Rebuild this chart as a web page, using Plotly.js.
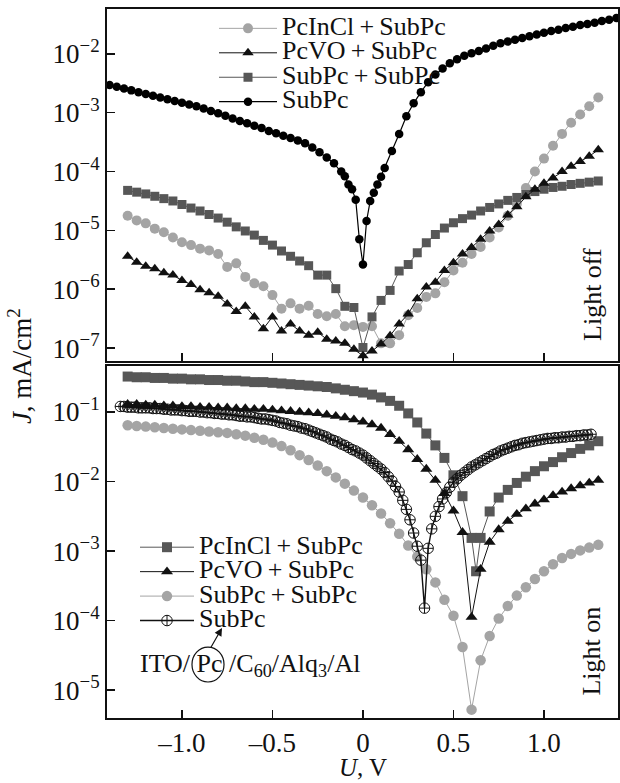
<!DOCTYPE html>
<html>
<head>
<meta charset="utf-8">
<script src="https://cdn.plot.ly/plotly-3.0.1.min.js"></script>
<style>html,body{margin:0;padding:0;background:#fff}#chart{width:620px;height:783px}</style>
</head>
<body>
<div id="chart"></div>
<script>
// ---------- Data (values are log10 of J in mA/cm^2) ----------
// Light off panel
const U_OFF = [-1.30,-1.25,-1.20,-1.15,-1.10,-1.05,-1.00,-0.95,-0.90,-0.85,-0.80,-0.75,-0.70,-0.65,-0.60,-0.55,-0.50,-0.45,-0.40,-0.35,-0.30,-0.25,-0.20,-0.15,-0.10,-0.05,0.00,0.05,0.10,0.15,0.20,0.25,0.30,0.35,0.40,0.45,0.50,0.55,0.60,0.65,0.70,0.75,0.80,0.85,0.90,0.95,1.00,1.05,1.10,1.15,1.20,1.25,1.30];
const LOGJ_OFF_PCINCL = [-4.75,-4.83,-4.88,-4.97,-5.03,-5.12,-5.20,-5.25,-5.31,-5.34,-5.40,-5.62,-5.56,-5.79,-5.90,-5.95,-6.10,-6.33,-6.24,-6.33,-6.28,-6.42,-6.46,-6.42,-6.63,-6.61,-6.64,-6.63,-6.92,-6.92,-6.78,-6.44,-6.32,-6.13,-6.07,-5.88,-5.68,-5.55,-5.40,-5.28,-5.12,-4.95,-4.75,-4.55,-4.28,-4.00,-3.78,-3.56,-3.36,-3.17,-3.03,-2.89,-2.74];
const LOGJ_OFF_PCVO = [-5.44,-5.54,-5.61,-5.65,-5.72,-5.76,-5.85,-5.92,-6.01,-6.06,-6.12,-6.25,-6.38,-6.29,-6.47,-6.67,-6.47,-6.71,-6.59,-6.71,-6.78,-6.73,-6.85,-6.88,-6.92,-7.02,-7.13,-7.05,-6.93,-6.79,-6.59,-6.42,-6.16,-5.96,-5.88,-5.68,-5.55,-5.40,-5.29,-5.15,-5.01,-4.90,-4.74,-4.60,-4.43,-4.30,-4.20,-4.11,-4.00,-3.91,-3.83,-3.74,-3.63];
const LOGJ_OFF_SUBSUB = [-4.32,-4.35,-4.38,-4.42,-4.46,-4.50,-4.56,-4.62,-4.67,-4.73,-4.79,-4.86,-4.94,-5.01,-5.08,-5.17,-5.25,-5.35,-5.44,-5.52,-5.60,-5.76,-5.76,-5.99,-6.29,-6.31,-6.99,-6.47,-6.19,-6.02,-5.69,-5.58,-5.38,-5.21,-5.07,-4.96,-4.87,-4.80,-4.74,-4.67,-4.61,-4.55,-4.49,-4.44,-4.39,-4.34,-4.30,-4.27,-4.25,-4.22,-4.20,-4.18,-4.16];
const U_OFF_SUBPC = [-1.40,-1.36,-1.32,-1.28,-1.24,-1.20,-1.16,-1.12,-1.08,-1.04,-1.00,-0.96,-0.92,-0.88,-0.84,-0.80,-0.76,-0.72,-0.68,-0.64,-0.60,-0.56,-0.52,-0.48,-0.44,-0.40,-0.36,-0.32,-0.28,-0.24,-0.20,-0.16,-0.12,
  -0.10,-0.08,-0.06,-0.04,-0.02,0.00,0.02,0.04,0.06,0.08,0.10,0.12,
  0.16,0.20,0.24,0.28,0.32,0.36,0.40,0.44,0.48,0.52,0.56,0.60,0.64,0.68,0.72,0.76,0.80,0.84,0.88,0.92,0.96,1.00,1.04,1.08,1.12,1.16,1.20,1.24,1.28,1.32,1.36,1.40];
const LOGJ_OFF_SUBPC = [-2.53,-2.56,-2.59,-2.62,-2.65,-2.68,-2.71,-2.74,-2.77,-2.80,-2.83,-2.86,-2.89,-2.93,-2.97,-3.01,-3.05,-3.10,-3.14,-3.18,-3.22,-3.26,-3.31,-3.35,-3.39,-3.43,-3.47,-3.52,-3.59,-3.67,-3.76,-3.86,-4.00,
  -4.08,-4.22,-4.30,-4.48,-5.15,-5.58,-4.84,-4.50,-4.36,-4.22,-4.09,-3.94,
  -3.65,-3.36,-3.06,-2.84,-2.65,-2.48,-2.35,-2.25,-2.16,-2.09,-2.03,-1.99,-1.95,-1.91,-1.86,-1.82,-1.79,-1.76,-1.73,-1.70,-1.67,-1.64,-1.61,-1.59,-1.56,-1.54,-1.51,-1.49,-1.47,-1.44,-1.42,-1.39];

// Light on panel
const U_ON = [-1.30,-1.25,-1.20,-1.15,-1.10,-1.05,-1.00,-0.95,-0.90,-0.85,-0.80,-0.75,-0.70,-0.65,-0.60,-0.55,-0.50,-0.45,-0.40,-0.35,-0.30,-0.25,-0.20,-0.15,-0.10,-0.05,0.00,0.05,0.10,0.15,0.20,0.25,0.30,0.35,0.40,0.45,0.50,0.55,0.60,0.65,0.70,0.75,0.80,0.85,0.90,0.95,1.00,1.05,1.10,1.15,1.20,1.25,1.30];
const U_ON_PCINCL = [-1.30,-1.25,-1.20,-1.15,-1.10,-1.05,-1.00,-0.95,-0.90,-0.85,-0.80,-0.75,-0.70,-0.65,-0.60,-0.55,-0.50,-0.45,-0.40,-0.35,-0.30,-0.25,-0.20,-0.15,-0.10,-0.05,0.00,0.05,0.10,0.15,0.20,0.25,0.30,0.35,0.40,0.45,0.50,0.55,0.60,0.625,0.65,0.70,0.75,0.80,0.85,0.90,0.95,1.00,1.05,1.10,1.15,1.20,1.25,1.30];
const LOGJ_ON_PCINCL = [-0.49,-0.50,-0.50,-0.51,-0.51,-0.52,-0.52,-0.53,-0.53,-0.54,-0.54,-0.55,-0.55,-0.56,-0.57,-0.57,-0.58,-0.59,-0.60,-0.61,-0.62,-0.63,-0.64,-0.66,-0.68,-0.70,-0.72,-0.75,-0.79,-0.84,-0.91,-1.02,-1.15,-1.31,-1.48,-1.66,-1.91,-2.21,-2.81,-3.29,-2.81,-2.43,-2.23,-2.12,-2.02,-1.93,-1.85,-1.78,-1.72,-1.65,-1.59,-1.53,-1.48,-1.42];
const LOGJ_ON_PCVO = [-0.89,-0.89,-0.90,-0.90,-0.91,-0.91,-0.92,-0.92,-0.93,-0.93,-0.94,-0.94,-0.95,-0.95,-0.96,-0.96,-0.97,-0.98,-0.99,-1.00,-1.01,-1.02,-1.04,-1.06,-1.08,-1.11,-1.14,-1.18,-1.23,-1.32,-1.42,-1.54,-1.68,-1.82,-1.98,-2.17,-2.42,-2.73,-3.95,-3.26,-2.87,-2.69,-2.57,-2.47,-2.39,-2.32,-2.26,-2.20,-2.15,-2.10,-2.06,-2.02,-1.98];
const LOGJ_ON_SUBSUB = [-1.19,-1.20,-1.21,-1.22,-1.23,-1.24,-1.25,-1.26,-1.27,-1.28,-1.29,-1.30,-1.32,-1.34,-1.37,-1.40,-1.44,-1.49,-1.55,-1.62,-1.69,-1.77,-1.85,-1.94,-2.03,-2.13,-2.23,-2.34,-2.46,-2.60,-2.75,-2.92,-3.08,-3.26,-3.45,-3.70,-3.93,-4.38,-5.28,-4.57,-4.22,-3.97,-3.79,-3.64,-3.52,-3.40,-3.29,-3.19,-3.10,-3.04,-2.99,-2.95,-2.91];
const U_ON_SUBPC = [-1.34,-1.32,-1.30,-1.28,-1.26,-1.24,-1.22,-1.20,-1.18,-1.16,-1.14,-1.12,-1.10,-1.08,-1.06,-1.04,-1.02,-1.00,
  -0.98,-0.96,-0.94,-0.92,-0.90,-0.88,-0.86,-0.84,-0.82,-0.80,-0.78,-0.76,-0.74,-0.72,-0.70,-0.68,-0.66,-0.64,-0.62,-0.60,-0.58,-0.56,-0.54,-0.52,-0.50,-0.48,-0.46,-0.44,-0.42,-0.40,-0.38,-0.36,-0.34,-0.32,-0.30,-0.28,-0.26,-0.24,-0.22,-0.20,-0.18,-0.16,-0.14,-0.12,-0.10,-0.08,-0.06,-0.04,-0.02,
  0.00,0.02,0.04,0.06,0.08,0.10,0.12,0.14,0.16,0.18,0.20,0.22,0.24,0.26,0.28,0.30,0.32,0.34,0.36,0.38,0.40,0.42,0.44,0.46,0.48,0.50,0.52,0.54,0.56,0.58,0.60,0.62,0.64,0.66,0.68,0.70,0.72,0.74,0.76,0.78,0.80,0.82,0.84,0.86,0.88,0.90,0.92,0.94,0.96,0.98,
  1.00,1.02,1.04,1.06,1.08,1.10,1.12,1.14,1.16,1.18,1.20,1.22,1.24,1.26];
const LOGJ_ON_SUBPC = [-0.92,-0.92,-0.93,-0.93,-0.93,-0.94,-0.94,-0.94,-0.94,-0.95,-0.95,-0.95,-0.96,-0.96,-0.97,-0.97,-0.97,-0.98,
  -0.98,-0.99,-0.99,-0.99,-1.00,-1.00,-1.01,-1.01,-1.02,-1.02,-1.03,-1.03,-1.04,-1.04,-1.05,-1.06,-1.06,-1.07,-1.07,-1.08,-1.09,-1.10,-1.10,-1.11,-1.12,-1.13,-1.15,-1.16,-1.17,-1.19,-1.20,-1.21,-1.23,-1.24,-1.26,-1.28,-1.30,-1.32,-1.34,-1.36,-1.39,-1.41,-1.43,-1.46,-1.48,-1.51,-1.54,-1.56,-1.59,
  -1.62,-1.66,-1.70,-1.74,-1.78,-1.82,-1.87,-1.93,-1.99,-2.07,-2.15,-2.27,-2.40,-2.55,-2.74,-2.93,-3.13,-3.82,-2.96,-2.68,-2.50,-2.36,-2.25,-2.16,-2.08,-2.01,-1.96,-1.91,-1.87,-1.83,-1.79,-1.76,-1.73,-1.70,-1.67,-1.64,-1.61,-1.59,-1.56,-1.54,-1.52,-1.50,-1.48,-1.47,-1.45,-1.44,-1.43,-1.42,-1.41,-1.40,
  -1.39,-1.38,-1.38,-1.37,-1.37,-1.36,-1.36,-1.35,-1.35,-1.34,-1.34,-1.33,-1.33,-1.32];

// Series names and tick labels
const NAMES = ['PcInCl\u2009+\u2009SubPc', 'PcVO\u2009+\u2009SubPc', 'SubPc\u2009+\u2009SubPc', 'SubPc'];
const X_TICKS = [-1.0, -0.5, 0, 0.5, 1.0];
const X_TICK_TEXT = ['\u20131.0', '\u20130.5', '0', '0.5', '1.0'];
const Y_TOP_TICKS = [1e-7, 1e-6, 1e-5, 1e-4, 1e-3, 1e-2];
const Y_TOP_TEXT = ['10<sup>\u22127</sup>','10<sup>\u22126</sup>','10<sup>\u22125</sup>','10<sup>\u22124</sup>','10<sup>\u22123</sup>','10<sup>\u22122</sup>'];
const Y_BOT_TICKS = [1e-5, 1e-4, 1e-3, 1e-2, 1e-1];
const Y_BOT_TEXT = ['10<sup>\u22125</sup>','10<sup>\u22124</sup>','10<sup>\u22123</sup>','10<sup>\u22122</sup>','10<sup>\u22121</sup>'];

// ---------- Build ----------
const FONT = '"Liberation Serif", "Times New Roman", serif';
const FS = 27;
const LEG_FS = 26;
const toJ = arr => arr.map(v => Math.pow(10, v));
const lbl = s => '<span style="font-size:' + LEG_FS + 'px">' + s + '</span>';

const LIGHT = '#a4a4a4', DARK = '#575757', BLACK = '#111111';

const traces = [
  // Light off (drawing order: gray circles, squares, triangles, black)
  {x: U_OFF, y: toJ(LOGJ_OFF_PCINCL), xaxis:'x', yaxis:'y', legend:'legend', legendrank:1, name: lbl(NAMES[0]),
   mode:'lines+markers', line:{color:LIGHT, width:1}, marker:{symbol:'circle', size:10, color:LIGHT}},
  {x: U_OFF, y: toJ(LOGJ_OFF_SUBSUB), xaxis:'x', yaxis:'y', legend:'legend', legendrank:3, name: lbl(NAMES[2]),
   mode:'lines+markers', line:{color:DARK, width:1}, marker:{symbol:'square', size:9, color:DARK}},
  {x: U_OFF, y: toJ(LOGJ_OFF_PCVO), xaxis:'x', yaxis:'y', legend:'legend', legendrank:2, name: lbl(NAMES[1]),
   mode:'lines+markers', line:{color:BLACK, width:1}, marker:{symbol:'triangle-up', size:10, color:BLACK}},
  {x: U_OFF_SUBPC, y: toJ(LOGJ_OFF_SUBPC), xaxis:'x', yaxis:'y', legend:'legend', legendrank:4, name: lbl(NAMES[3]),
   mode:'lines+markers', line:{color:'#000', width:1.2}, marker:{symbol:'circle', size:8.5, color:'#000'}},
  // Light on
  {x: U_ON, y: toJ(LOGJ_ON_SUBSUB), xaxis:'x2', yaxis:'y2', legend:'legend2', legendrank:3, name: lbl(NAMES[2]),
   mode:'lines+markers', line:{color:LIGHT, width:1}, marker:{symbol:'circle', size:10.5, color:LIGHT}},
  {x: U_ON_PCINCL, y: toJ(LOGJ_ON_PCINCL), xaxis:'x2', yaxis:'y2', legend:'legend2', legendrank:1, name: lbl(NAMES[0]),
   mode:'lines+markers', line:{color:DARK, width:1}, marker:{symbol:'square', size:10, color:DARK}},
  {x: U_ON, y: toJ(LOGJ_ON_PCVO), xaxis:'x2', yaxis:'y2', legend:'legend2', legendrank:2, name: lbl(NAMES[1]),
   mode:'lines+markers', line:{color:BLACK, width:1}, marker:{symbol:'triangle-up', size:10.5, color:BLACK}},
  {x: U_ON_SUBPC, y: toJ(LOGJ_ON_SUBPC), xaxis:'x2', yaxis:'y2', legend:'legend2', legendrank:4, name: lbl(NAMES[3]),
   mode:'lines+markers', line:{color:BLACK, width:1.4}, marker:{symbol:'circle-cross-open', size:10.5, color:BLACK, line:{width:1, color:BLACK}}}
];

const axisCommon = {
  showline:true, linewidth:2, linecolor:'#111', mirror:true,
  ticks:'inside', ticklen:8, tickwidth:1.5, tickcolor:'#111',
  showgrid:false, zeroline:false,
  tickfont:{family:FONT, size:FS, color:'#111'}
};

const layout = {
  width:620, height:783,
  margin:{l:107, r:2, t:9, b:65},
  paper_bgcolor:'#fff', plot_bgcolor:'#fff',
  font:{family:FONT, size:FS, color:'#111'},
  showlegend:true,
  xaxis: Object.assign({}, axisCommon, {anchor:'y', domain:[0,1], range:[-1.414,1.409], tickvals:X_TICKS, showticklabels:false}),
  yaxis: Object.assign({}, axisCommon, {anchor:'x', domain:[0.5035,1], type:'log', range:[-7.22,-1.237], tickvals:Y_TOP_TICKS, ticktext:Y_TOP_TEXT}),
  xaxis2: Object.assign({}, axisCommon, {anchor:'y2', domain:[0,1], range:[-1.414,1.409], tickvals:X_TICKS, ticktext:X_TICK_TEXT}),
  yaxis2: Object.assign({}, axisCommon, {anchor:'x2', domain:[0,0.4965], type:'log', range:[-5.40,-0.338], tickvals:Y_BOT_TICKS, ticktext:Y_BOT_TEXT}),
  legend: {x:0.2094, y:0.997, xanchor:'left', yanchor:'top', bgcolor:'rgba(0,0,0,0)', borderwidth:0,
           font:{family:FONT, size:16.5, color:'#111'}, itemwidth:58, tracegroupgap:0, traceorder:'normal'},
  legend2: {x:0.0548, y:0.2652, xanchor:'left', yanchor:'top', bgcolor:'rgba(0,0,0,0)', borderwidth:0,
           font:{family:FONT, size:16.5, color:'#111'}, itemwidth:54, tracegroupgap:0, traceorder:'normal'},
  annotations: [
    {xref:'paper', yref:'paper', x:-0.170, y:0.4965, text:'<i>J</i>, mA/cm<sup>2</sup>', textangle:-90,
     showarrow:false, xanchor:'center', yanchor:'middle', font:{family:FONT, size:FS, color:'#111'}},
    {xref:'paper', yref:'paper', x:0.501, y:-0.0915, text:'<i>U</i>, V',
     showarrow:false, xanchor:'center', yanchor:'bottom', font:{family:FONT, size:25, color:'#111'}},
    {xref:'paper', yref:'paper', x:0.949, y:0.598, text:'Light off', textangle:-90,
     showarrow:false, xanchor:'center', yanchor:'middle', font:{family:FONT, size:26, color:'#111'}},
    {xref:'paper', yref:'paper', x:0.949, y:0.095, text:'Light on', textangle:-90,
     showarrow:false, xanchor:'center', yanchor:'middle', font:{family:FONT, size:26, color:'#111'}},
    {xref:'paper', yref:'paper', x:0.0607, y:0.0748, text:'ITO/ Pc /C<sub>60</sub>/Alq<sub>3</sub>/Al',
     showarrow:false, xanchor:'left', yanchor:'middle', font:{family:FONT, size:26, color:'#111'}},
    {xref:'paper', yref:'paper', x:0.2250, y:0.1269, text:'', showarrow:true, ax:-12, ay:21,
     arrowhead:2, arrowsize:1.3, arrowwidth:1.2, arrowcolor:'#111', standoff:0, startstandoff:0}
  ],
  shapes: [
    {type:'circle', xref:'paper', yref:'paper', x0:0.1663, x1:0.2290, y0:0.0508, y1:0.1001,
     line:{color:'#111', width:1.2}, fillcolor:'rgba(0,0,0,0)'}
  ]
};

Plotly.newPlot('chart', traces, layout, {displayModeBar:false, staticPlot:true});
</script>
</body>
</html>
